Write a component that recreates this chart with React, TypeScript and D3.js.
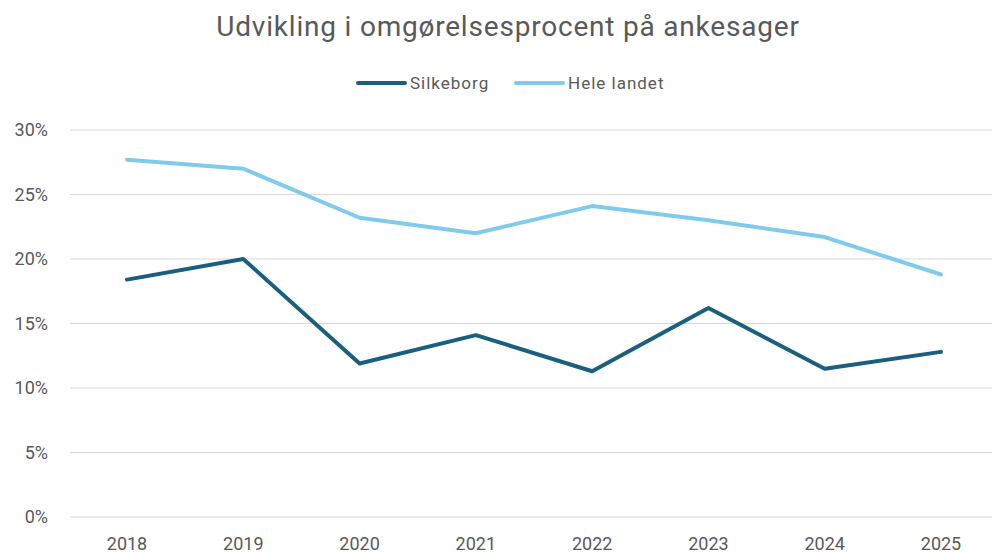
import React, { useEffect, useRef } from 'react';
import * as d3 from 'd3';

const years = ['2018', '2019', '2020', '2021', '2022', '2023', '2024', '2025'];
const silkeborg = [18.4, 20.0, 11.9, 14.1, 11.3, 16.2, 11.5, 12.8];
const heleLandet = [27.7, 27.0, 23.2, 22.0, 24.1, 23.0, 21.7, 18.8];
const yTicks = [0, 5, 10, 15, 20, 25, 30];

const W = 992, H = 553;
const FONT = 'Roboto, "Liberation Sans", sans-serif';

export default function App() {
  const ref = useRef<SVGSVGElement>(null);

  useEffect(() => {
    const svg = d3.select(ref.current);
    svg.selectAll('*').remove();

    const x = d3.scalePoint<string>().domain(years).range([127, 941]);
    const y = d3.scaleLinear().domain([0, 30]).range([517, 130]);

    // title
    svg.append('text')
      .attr('x', 508).attr('y', 36)
      .attr('text-anchor', 'middle')
      .attr('font-family', FONT).attr('font-size', 28)
      .attr('letter-spacing', 0.8)
      .attr('fill', '#595959')
      .text('Udvikling i omgørelsesprocent på ankesager');

    // gridlines
    svg.append('g').selectAll('line').data(yTicks).join('line')
      .attr('x1', 70).attr('x2', W)
      .attr('y1', d => y(d)).attr('y2', d => y(d))
      .attr('stroke', '#d9d9d9').attr('stroke-width', 1);

    // y axis labels
    svg.append('g').selectAll('text').data(yTicks).join('text')
      .attr('x', 48).attr('y', d => y(d) + 6)
      .attr('text-anchor', 'end')
      .attr('font-family', FONT).attr('font-size', 18)
      .attr('fill', '#595959')
      .text(d => d + '%');

    // x axis labels
    svg.append('g').selectAll('text').data(years).join('text')
      .attr('x', d => x(d)!).attr('y', 550)
      .attr('text-anchor', 'middle')
      .attr('font-family', FONT).attr('font-size', 18)
      .attr('fill', '#595959')
      .text(d => d);

    const series = [
      { name: 'Silkeborg', values: silkeborg, color: '#1a5f80' },
      { name: 'Hele landet', values: heleLandet, color: '#80cbec' },
    ];

    const line = d3.line<number>()
      .x((_, i) => x(years[i])!)
      .y(d => y(d));

    // draw light line first so dark sits on top
    [...series].reverse().forEach(s => {
      svg.append('path')
        .datum(s.values)
        .attr('d', line)
        .attr('fill', 'none')
        .attr('stroke', s.color)
        .attr('stroke-width', 4)
        .attr('stroke-linejoin', 'round')
        .attr('stroke-linecap', 'round');
    });

    // legend
    const legendX = [358, 516];
    series.forEach((s, i) => {
      const g = svg.append('g').attr('transform', `translate(${legendX[i]},83)`);
      g.append('line')
        .attr('x1', 0).attr('x2', 47).attr('y1', 0).attr('y2', 0)
        .attr('stroke', s.color).attr('stroke-width', 4)
        .attr('stroke-linecap', 'round');
      g.append('text')
        .attr('x', 52).attr('y', 6)
        .attr('font-family', FONT).attr('font-size', 17)
        .attr('letter-spacing', 1)
        .attr('fill', '#595959')
        .text(s.name);
    });
  }, []);

  return (
    <div style={{ position: 'absolute', left: 0, top: 0 }}>
      <svg ref={ref} width={W} height={H} style={{ display: 'block', background: '#fff' }} />
    </div>
  );
}
